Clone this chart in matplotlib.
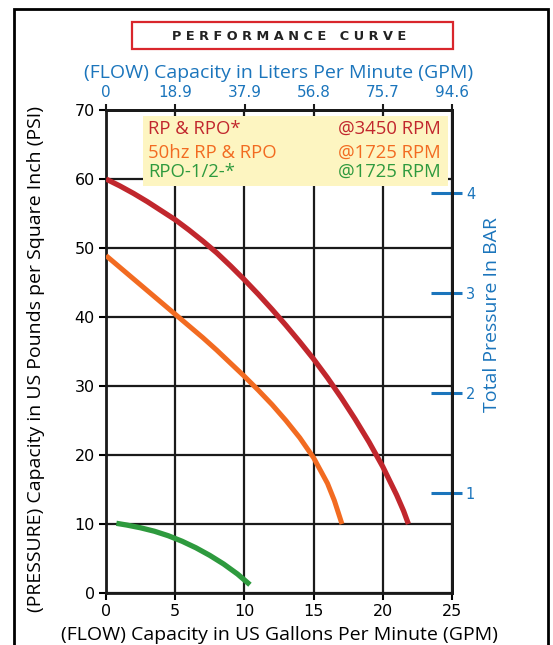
import matplotlib
matplotlib.use("Agg")
import matplotlib.pyplot as plt
import matplotlib.patches as mpatches

# curve data (flow in US GPM, pressure in PSI)
red_gpm = [0, 1, 2, 3, 4, 5, 6, 7, 8, 9, 10, 11, 12, 13, 14, 15, 16, 17, 18, 19, 20, 21, 21.5, 21.85]
red_psi = [60.0, 59.0, 57.9, 56.7, 55.4, 54.1, 52.6, 51.0, 49.3, 47.4, 45.4, 43.3, 41.1,
           38.8, 36.4, 33.9, 31.2, 28.3, 25.2, 21.9, 18.3, 14.2, 11.9, 10.0]
orange_gpm = [0, 1, 2, 3, 4, 5, 6, 7, 8, 9, 10, 11, 12, 13, 14, 15, 16, 16.5, 17.05]
orange_psi = [48.9, 47.2, 45.5, 43.8, 42.1, 40.4, 38.7, 37.0, 35.2, 33.3, 31.4, 29.4,
              27.3, 25.0, 22.5, 19.6, 15.9, 13.4, 10.0]
green_gpm = [0.75, 1.5, 2.5, 3.5, 4.5, 5.5, 6.5, 7.5, 8.5, 9.5, 10.4]
green_psi = [10.1, 9.85, 9.45, 8.95, 8.3, 7.5, 6.55, 5.45, 4.2, 2.75, 1.2]

gpm_ticks = [0, 5, 10, 15, 20, 25]
psi_ticks = [0, 10, 20, 30, 40, 50, 60, 70]
lpm_ticks = [0, 18.9, 37.9, 56.8, 75.7, 94.6]
lpm_labels = ['0', '18.9', '37.9', '56.8', '75.7', '94.6']
bar_ticks = [1, 2, 3, 4]

legend_rows = [
    ('RP & RPO*', '@3450 RPM'),
    ('50hz RP & RPO', '@1725 RPM'),
    ('RPO-1/2-*', '@1725 RPM'),
]

RED = '#c1272d'
ORANGE = '#f26b21'
GREEN = '#2e9a3e'
BLUE = '#1b75bc'
LABEL_FONT = ['Open Sans', 'DejaVu Sans']

fig = plt.figure(figsize=(5.53, 6.45), dpi=100)
ax = fig.add_axes([106/553, 1-593/645, 346/553, 483/645])

# outer frame + title box
fig.patches.append(mpatches.Rectangle((14/553, -0.05), 534/553, 1.05-9/645,
                                      transform=fig.transFigure, fill=False,
                                      edgecolor='black', lw=2, clip_on=False))
fig.patches.append(mpatches.Rectangle((132/553, 1-49/645), 321/553, 27/645,
                                      transform=fig.transFigure, fill=False,
                                      edgecolor='#d9262c', lw=1.6))
fig.text(289/553, 1-36/645, 'P E R F O R M A N C E   C U R V E', ha='center', va='center',
         fontsize=9.3, color='#222222', fontweight='bold', family='DejaVu Sans')

ax.plot(red_gpm, red_psi, color=RED, lw=3.8, solid_capstyle='butt', zorder=3)
ax.plot(orange_gpm, orange_psi, color=ORANGE, lw=3.6, solid_capstyle='butt', zorder=3)
ax.plot(green_gpm, green_psi, color=GREEN, lw=3.8, solid_capstyle='butt', zorder=3)

ax.set_xlim(0, 25)
ax.set_ylim(0, 70)
ax.set_xticks(gpm_ticks)
ax.set_yticks(psi_ticks)
ax.grid(True, color='#1a1a1a', lw=1.6)
ax.set_axisbelow(True)
for s in ax.spines.values():
    s.set_linewidth(2)
    s.set_color('#1a1a1a')
ax.tick_params(axis='both', direction='out', length=5, width=1.5, labelsize=11.5)
ax.tick_params(axis='y', pad=3)
ax.tick_params(axis='x', top=False, pad=3)

ax.set_xlabel('(FLOW) Capacity in US Gallons Per Minute (GPM)', fontsize=14,
              family=LABEL_FONT, labelpad=5)
ax.set_ylabel('(PRESSURE) Capacity in US Pounds per Square Inch (PSI)', fontsize=14,
              family=LABEL_FONT)
ax.yaxis.set_label_coords(-0.175, 0.484)

# top axis in liters per minute
top = ax.secondary_xaxis('top', functions=(lambda g: g*3.785, lambda l: l/3.785))
top.set_xticks(lpm_ticks, labels=lpm_labels)
top.tick_params(direction='out', length=4, width=1.5, color='#1a1a1a',
                labelcolor=BLUE, labelsize=11, pad=3)
top.spines['top'].set_linewidth(2)
top.set_xlabel('(FLOW) Capacity in Liters Per Minute (GPM)', fontsize=14,
               color=BLUE, family=LABEL_FONT, labelpad=5)

# right axis in bar: outer ticks with labels, longer inner stubs
right = ax.secondary_yaxis('right', functions=(lambda p: p/14.5038, lambda b: b*14.5038))
right.set_yticks(bar_ticks)
right.tick_params(direction='out', length=7, width=2.2, color=BLUE,
                  labelcolor=BLUE, labelsize=10.5, pad=3)
right.spines['right'].set_linewidth(2)
right.set_ylabel('Total Pressure In BAR', fontsize=14, color=BLUE, family=LABEL_FONT)
right.yaxis.set_label_coords(1.09, 0.576, transform=ax.transAxes)
right_in = ax.secondary_yaxis('right', functions=(lambda p: p/14.5038, lambda b: b*14.5038))
right_in.set_yticks(bar_ticks, labels=[])
right_in.tick_params(direction='in', length=15, width=2.2, color=BLUE)
right_in.spines['right'].set_linewidth(2)

# legend box
ax.add_patch(mpatches.Rectangle((0.107, 0.843), 0.881, 0.145, transform=ax.transAxes,
                                facecolor='#fdf5c1', edgecolor='none', zorder=4))
row_y = [0.961, 0.911, 0.872]
for (name, rpm), col, yy in zip(legend_rows, [RED, ORANGE, GREEN], row_y):
    ax.text(0.122, yy, name, transform=ax.transAxes, color=col, fontsize=13.3,
            family=LABEL_FONT, va='center', ha='left', zorder=5)
    ax.text(0.968, yy, rpm, transform=ax.transAxes, color=col, fontsize=13.3,
            family=LABEL_FONT, va='center', ha='right', zorder=5)

fig.savefig('out.png', dpi=100)
